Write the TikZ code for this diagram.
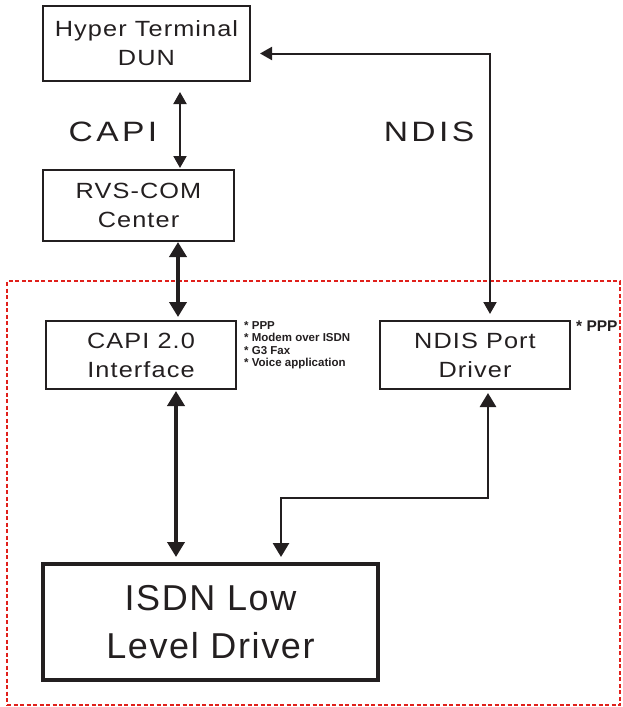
\documentclass[tikz,border=0pt]{standalone}
\usepackage{fontspec}
\setmainfont{Liberation Sans}
\newfontfamily\boxfont[FakeStretch=1.15, LetterSpace=5]{Liberation Sans}
\newfontfamily\lblfont[FakeStretch=1.2, LetterSpace=12]{Liberation Sans}
\newfontfamily\isdnfont[LetterSpace=4.5]{Liberation Sans}
\usetikzlibrary{arrows.meta,positioning}
\definecolor{fontgray}{RGB}{35,31,32}
\definecolor{zonered}{RGB}{224,32,27}

\begin{document}
\begin{tikzpicture}[x=1pt, y=-1pt, node distance=2mm,
		block/.style={draw=fontgray, rectangle, line width=2pt, inner sep=0pt, align=center, text=fontgray, font=\boxfont\fontsize{22}{29}\selectfont},
		bigblock/.style={block, line width=4pt, font=\isdnfont\fontsize{36}{48}\selectfont},
		ilabel/.style={draw=none, inner sep=0pt, text=fontgray, font=\lblfont\fontsize{28}{32}\selectfont},
		notes/.style={draw=none, inner sep=0pt, align=left, text=fontgray, font=\bfseries\fontsize{11.5}{12.5}\selectfont},
		zone/.style={draw=zonered, rectangle, line width=2.4pt, dash pattern=on 4pt off 2.5pt, inner sep=0pt},
		thinLine/.style={line width=2pt, color=fontgray, {Triangle[width=13pt,length=12pt]}-{Triangle[width=13pt,length=12pt]}},
		thickLine/.style={line width=4pt, color=fontgray, {Triangle[width=17pt,length=15pt]}-{Triangle[width=17pt,length=15pt]}},
		midLine/.style={line width=2.8pt, color=fontgray, {Triangle[width=16pt,length=14pt]}-{Triangle[width=16pt,length=14pt]}}
		]
		\useasboundingbox (0,0) rectangle (623,707);
		
		\node[zone, minimum width=613pt, minimum height=424pt](zone) at (313.5,493) {};
		
		\node[block, minimum width=207pt, minimum height=75pt](hyper) at (146.5,43.5) {Hyper Terminal\\DUN};
		\node[block, minimum width=191pt, minimum height=71pt](rvs) [below right=87pt and 0pt of hyper.south west] {RVS-COM\\Center};
		\node[block, minimum width=190pt, minimum height=68pt](capi2) [below right=78pt and 3pt of rvs.south west] {CAPI 2.0\\Interface};
		\node[block, minimum width=190pt, minimum height=68pt](ndis) [right=142pt of capi2] {NDIS Port\\Driver};
		\node[bigblock, minimum width=335pt, minimum height=116pt](isdn) [below right=172pt and -4pt of capi2.south west] {ISDN Low\\Level Driver};
		
		\node[ilabel](capilbl) at (113,132) {CAPI};
		\node[ilabel](ndislbl) at (429,132) {NDIS};
		
		\node[notes, anchor=north west](capinotes) at ([xshift=7pt, yshift=-1pt]capi2.north east) {* PPP\\* Modem over ISDN\\* G3 Fax\\* Voice application};
		\node[notes, anchor=north west, font=\bfseries\fontsize{15.5}{18}\selectfont](ndisnotes) at ([xshift=5pt, yshift=-1pt]ndis.north east) {* PPP};
		
		\draw [thinLine, shorten <=10pt, shorten >=1pt] ([xshift=33.5pt]hyper.south) -- ([xshift=33.5pt]hyper.south |- rvs.north);
		\draw [thickLine, shorten >=3pt] ([xshift=39.5pt]rvs.south) -- ([xshift=39.5pt]rvs.south |- capi2.north);
		\draw [thickLine, shorten <=1pt, shorten >=5pt] ([xshift=35pt]capi2.south) -- ([xshift=35pt]capi2.south |- isdn.north);
		\draw [thinLine, shorten <=9pt, shorten >=6pt] ([yshift=-10pt]hyper.east) -| ([xshift=15pt]ndis.north);
		\draw [midLine, shorten <=3pt, shorten >=5pt] ([xshift=13pt]ndis.south) -- ++(0,108) -| ([xshift=70.5pt]isdn.north);
\end{tikzpicture}
\end{document}
